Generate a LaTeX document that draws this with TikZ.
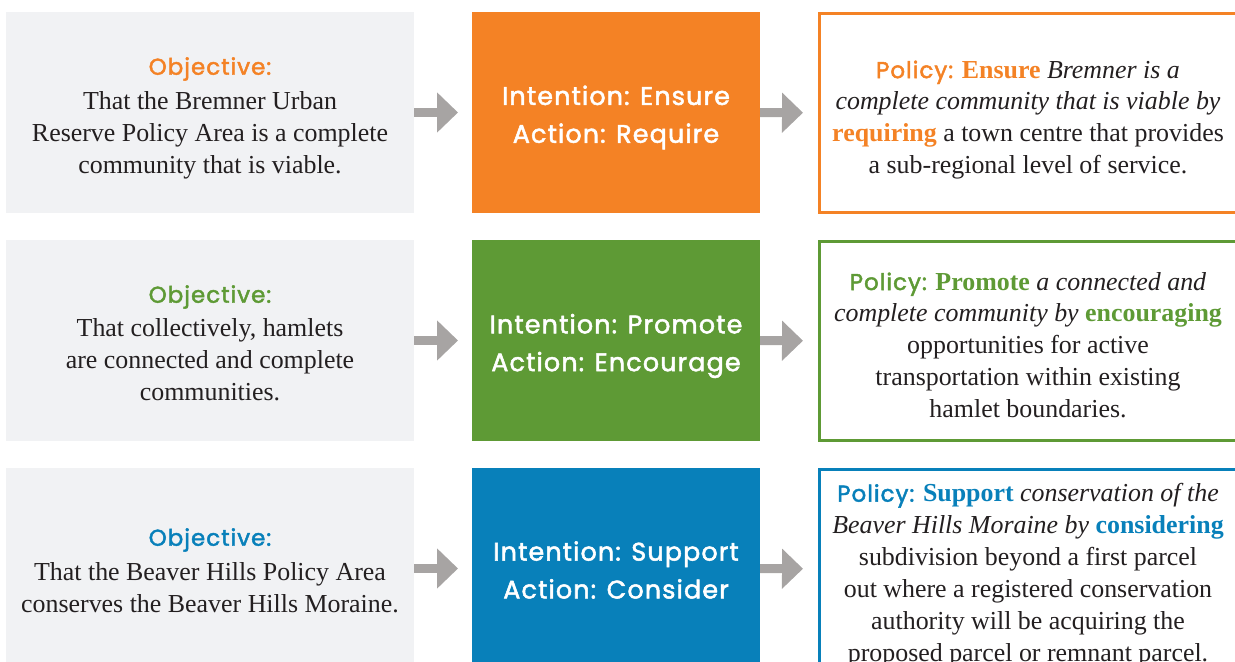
\documentclass[tikz,border=0pt]{standalone}
\usepackage{fontspec}
\setmainfont{Liberation Serif}
\newfontfamily\headfont[FakeBold=2]{Poppins}
\usetikzlibrary{arrows.meta}
\definecolor{cOrange}{RGB}{244,130,37}
\definecolor{cGreen}{RGB}{94,154,53}
\definecolor{cBlue}{RGB}{8,128,186}
\definecolor{cPanel}{RGB}{241,242,244}
\definecolor{cArrow}{RGB}{167,164,163}
\definecolor{cText}{RGB}{35,31,32}
\tikzset{
  objbox/.style={rectangle, fill=cPanel, draw=none, minimum width=408bp, minimum height=201bp, inner sep=0pt, outer sep=0pt},
  intbox/.style={rectangle, fill=#1, draw=none, minimum width=288bp, minimum height=201bp, inner sep=0pt, outer sep=0pt},
  inttxt/.style={text=white, align=center, inner sep=0pt, font=\headfont\addfontfeatures{LetterSpace=4.5}\fontsize{25.5}{38}\selectfont},
  polbox/.style={rectangle, draw=#1, line width=2.5bp, fill=white, minimum width=425bp, minimum height=199bp, inner sep=0pt, anchor=west},
  headtxt/.style={text=#1, font=\headfont\addfontfeatures{LetterSpace=4.5}\fontsize{23}{30}\selectfont, inner sep=0pt},
  bodytxt/.style={text=cText, align=center, font=\fontsize{26}{32}\selectfont, inner sep=0pt},
  flow/.style={draw=cArrow, line width=9bp, -{Triangle[length=21bp,width=39bp]}},
}
\newcommand{\pol}[1]{{\headfont\addfontfeatures{LetterSpace=4.5}\fontsize{23}{30}\selectfont\color{#1}Policy:}}
\newcommand{\kw}[2]{{\bfseries\color{#1}#2}}
\begin{document}
\begin{tikzpicture}[x=1bp,y=-1bp]
\useasboundingbox (0,0) rectangle (1235,662);
\begin{scope}
\clip (0,0) rectangle (1235,662);
% row 1
\node[objbox] (o1) at (210,112.5) {};
\node[intbox=cOrange] (i1) at (616,112.5) {};
\node[polbox=cOrange] (p1) at (818,113) {};
\node[headtxt=cOrange] (h1) at (210,69) {Objective:};
\node[bodytxt] (b1) at (210,135) {That the Bremner Urban\\Reserve Policy Area is a complete\\community that is viable.};
\node[inttxt] (n1) at (616,117.5) {Intention: Ensure\\Action: Require};
\node[bodytxt] (t1) at (1028,120) {\pol{cOrange} \kw{cOrange}{Ensure} \textit{Bremner is a}\\\textit{complete community that is viable by}\\\kw{cOrange}{requiring} a town centre that provides\\a sub-regional level of service.};
\draw[flow, shorten >=14bp] (o1) -- (i1);
\draw[flow, shorten >=15bp] (i1) -- (p1);
% row 2
\node[objbox] (o2) at (210,340.5) {};
\node[intbox=cGreen] (i2) at (616,340.5) {};
\node[polbox=cGreen] (p2) at (818,341) {};
\node[headtxt=cGreen] (h2) at (210,297) {Objective:};
\node[bodytxt] (b2) at (210,360) {That collectively, hamlets\\are connected and complete\\communities.};
\node[inttxt] (n2) at (616,346) {Intention: Promote\\Action: Encourage};
\node[bodytxt] (t2) at (1028,345) {\pol{cGreen} \kw{cGreen}{Promote} \textit{a connected and}\\\textit{complete community by} \kw{cGreen}{encouraging}\\opportunities for active\\transportation within existing\\hamlet boundaries.};
\draw[flow, shorten >=14bp] (o2) -- (i2);
\draw[flow, shorten >=15bp] (i2) -- (p2);
% row 3
\node[objbox] (o3) at (210,568.5) {};
\node[intbox=cBlue] (i3) at (616,568.5) {};
\node[polbox=cBlue] (p3) at (818,569) {};
\node[headtxt=cBlue] (h3) at (210,540) {Objective:};
\node[bodytxt] (b3) at (210,588) {That the Beaver Hills Policy Area\\conserves the Beaver Hills Moraine.};
\node[inttxt] (n3) at (616,570) {Intention: Support\\Action: Consider};
\node[bodytxt] (t3) at (1028,575) {\pol{cBlue} \kw{cBlue}{Support} \textit{conservation of the}\\\textit{Beaver Hills Moraine by} \kw{cBlue}{considering}\\subdivision beyond a first parcel\\out where a registered conservation\\authority will be acquiring the\\proposed parcel or remnant parcel.};
\draw[flow, shorten >=14bp] (o3) -- (i3);
\draw[flow, shorten >=15bp] (i3) -- (p3);
\end{scope}
\end{tikzpicture}
\end{document}
